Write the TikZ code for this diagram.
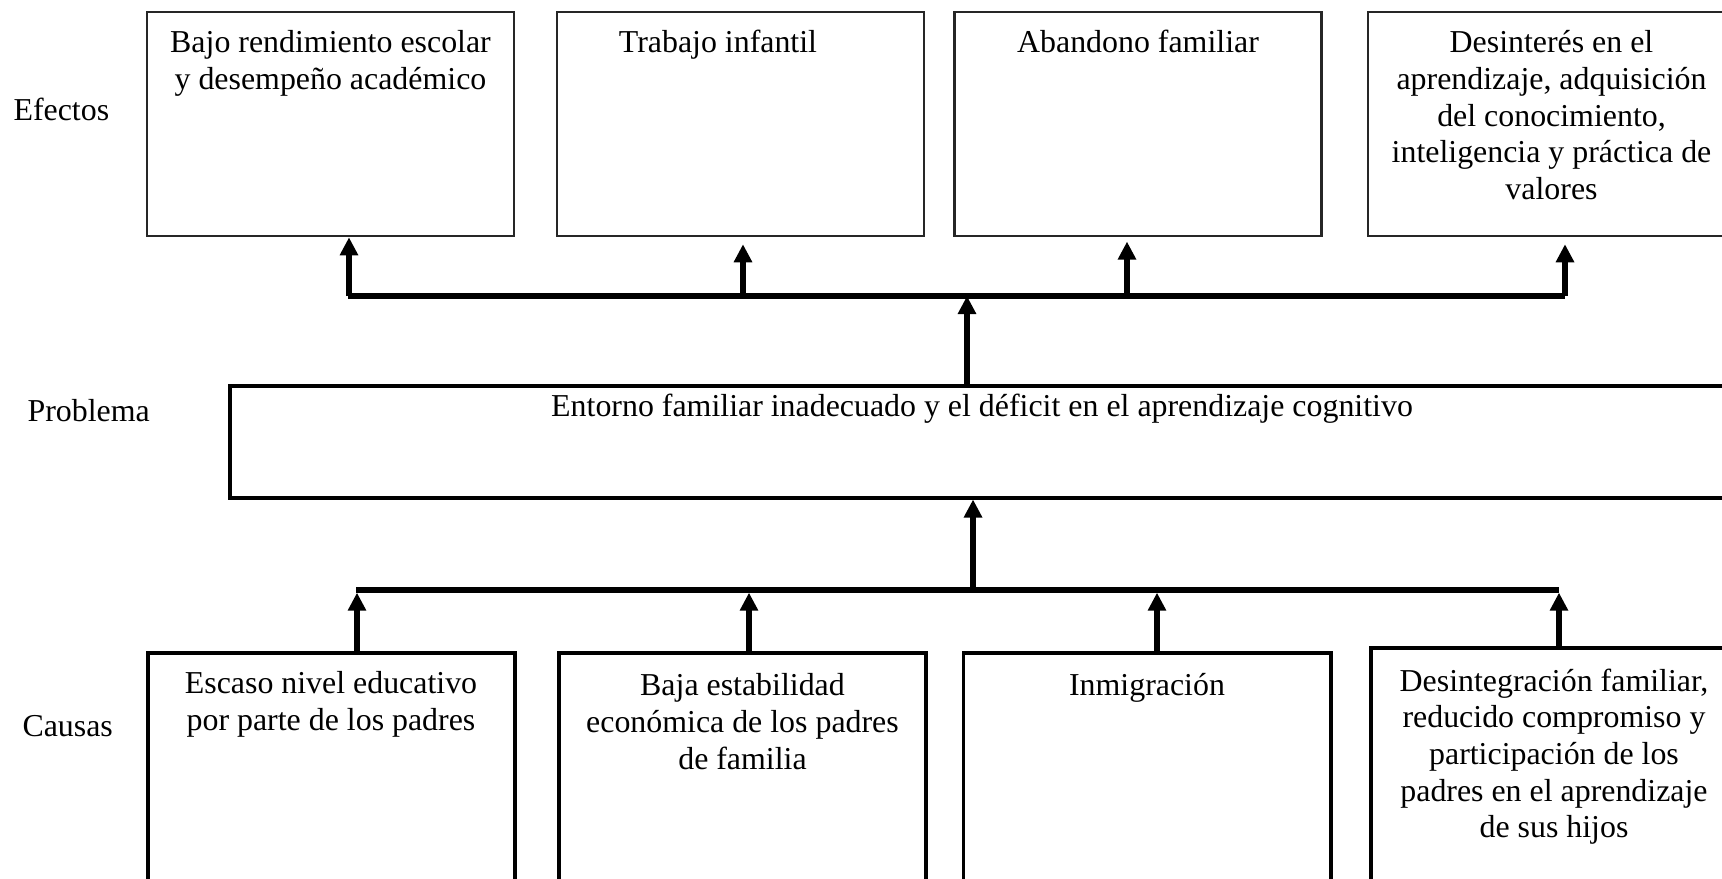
\documentclass[tikz,border=0pt]{standalone}
\usepackage{fontspec}
\setmainfont{Liberation Serif}
\usetikzlibrary{arrows.meta}
\begin{document}
\begin{tikzpicture}[
    every node/.style={align=center, font=\fontsize{12}{13.8}\selectfont},
    box text/.style={anchor=north, inner sep=0pt},
    effect box/.style={draw=black!85, line width=1pt, minimum width=4.853575cm, minimum height=2.962400cm, inner sep=0pt},
    cause box/.style={draw, line width=1.5pt, minimum width=4.853575cm, inner sep=0pt},
    bar line/.style={draw, line width=2.3pt},
    up arrow/.style={draw, line width=2.3pt, -{Triangle[width=6.6pt,length=6.8pt]}},
    ]
\useasboundingbox (0,0) rectangle (22.773450,-11.611550);
\clip (0,0) rectangle (22.773450,-11.611550);
% row labels
\node[anchor=base west, inner sep=0pt] (efectos) at (0.171925,-1.596258) {Efectos};
\node[anchor=base west, inner sep=0pt] (problema) at (0.357075,-5.576983) {Problema};
\node[anchor=base west, inner sep=0pt] (causas) at (0.290950,-9.733600) {Causas};
% effects
\node[effect box] (E1) at (4.370863,-1.639900) {};
\node[effect box] (E2) at (9.793113,-1.639900) {};
\node[effect box] (E3) at (15.050050,-1.639900) {};
\node[effect box] (E4) at (20.518588,-1.639900) {};
\node[box text] (E1t) at (4.370863,-0.396750) {Bajo rendimiento escolar\\y desempeño académico};
\node[box text] (E2t) at (9.495550,-0.396750) {Trabajo infantil};
\node[box text] (E3t) at (15.050050,-0.396750) {Abandono familiar};
\node[box text] (E4t) at (20.518588,-0.396750) {Desinterés en el\\aprendizaje, adquisición\\del conocimiento,\\inteligencia y práctica de\\valores};
% problem
\node[draw, line width=1.5pt, minimum width=19.890400cm, minimum height=1.481200cm, inner sep=0pt] (P) at (12.986950,-5.838838) {};
\node[anchor=base, inner sep=0pt] (Pt) at (12.986950,-5.501600) {Entorno familiar inadecuado y el déficit en el aprendizaje cognitivo};
% causes
\node[cause box, minimum height=3.266575cm] (C1) at (4.384088,-10.269213) {};
\node[cause box, minimum height=3.266575cm] (C2) at (9.819563,-10.269213) {};
\node[cause box, minimum height=3.266575cm] (C3) at (15.169075,-10.269213) {};
\node[cause box, minimum height=3.332700cm] (C4) at (20.558263,-10.236150) {};
\node[box text] (C1t) at (4.377475,-8.873975) {Escaso nivel educativo\\por parte de los padres};
\node[box text] (C2t) at (9.819563,-8.900425) {Baja estabilidad\\económica de los padres\\de familia};
\node[box text] (C3t) at (15.169075,-8.900425) {Inmigración};
\node[box text] (C4t) at (20.551650,-8.834300) {Desintegración familiar,\\reducido compromiso y\\participación de los\\padres en el aprendizaje\\de sus hijos};
% upper bar
\coordinate (ub0) at (4.602300,-3.914600);
\coordinate (ub1) at (4.615525,-3.914600);
\coordinate (ub2) at (9.826175,-3.914600);
\coordinate (ub3) at (14.904575,-3.914600);
\coordinate (ub4) at (20.697125,-3.914600);
\coordinate (ubc) at (12.788575,-3.914600);
\draw[bar line] (ub0) -- (ub4);
\draw[up arrow] (ub1) -- (ub1 |- E1.south);
\draw[up arrow, shorten >=2.6pt] (ub2) -- (ub2 |- E2.south);
\draw[up arrow, shorten >=1.6pt] (ub3) -- (ub3 |- E3.south);
\draw[up arrow, shorten >=2.6pt] (ub4) -- (ub4 |- E4.south);
\draw[up arrow] (ubc |- P.north) -- (ubc);
% lower bar
\coordinate (lb0) at (4.708100,-7.802750);
\coordinate (lb1) at (4.721325,-7.802750);
\coordinate (lb2) at (9.905525,-7.802750);
\coordinate (lb3) at (15.301325,-7.802750);
\coordinate (lb4) at (20.617775,-7.802750);
\coordinate (lbc) at (12.868425,-7.802750);
\draw[bar line] (lb0) -- (lb4);
\draw[up arrow, shorten >=1pt] (lb1 |- C1.north) -- (lb1);
\draw[up arrow, shorten >=1pt] (lb2 |- C2.north) -- (lb2);
\draw[up arrow, shorten >=1pt] (lb3 |- C3.north) -- (lb3);
\draw[up arrow, shorten >=1pt] (lb4 |- C4.north) -- (lb4);
\draw[up arrow] (lbc) -- (lbc |- P.south);
\end{tikzpicture}
\end{document}
